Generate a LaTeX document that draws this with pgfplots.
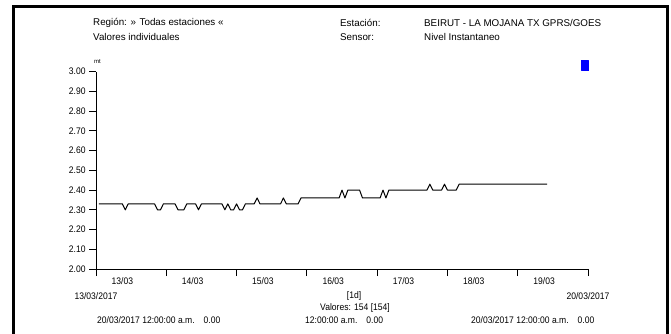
\documentclass[border=0pt]{standalone}
\usepackage{pgfplots}
\pgfplotsset{compat=1.18}
\usepackage{fontspec}
\setmainfont{Liberation Sans}
\newfontfamily\narrow{Liberation Sans}[FakeStretch=0.9]
\begin{document}
\fontsize{9.8}{11}\selectfont
\begin{tikzpicture}[x=1pt,y=1pt]
\path[use as bounding box] (0,0) rectangle (671,-333);
\begin{scope}
\clip (0,0) rectangle (671,-333);
\draw[line width=2.4pt] (13.5,-345) -- (13.5,-6.5) -- (667.5,-6.5) -- (667.5,-345);
\end{scope}
% header
\node[anchor=west,inner sep=0] at (93,-22.5) {Región: » Todas estaciones «};
\node[anchor=west,inner sep=0] at (93,-37) {Valores individuales};
\node[anchor=west,inner sep=0] at (340,-22.5) {Estación:};
\node[anchor=west,inner sep=0] at (340,-37) {Sensor:};
\node[anchor=west,inner sep=0] at (424,-22.5) {BEIRUT - LA MOJANA TX GPRS/GOES};
\node[anchor=west,inner sep=0] at (424,-37) {Nivel Instantaneo};
\node[inner sep=0,font=\fontsize{6}{7}\selectfont] at (97.5,-61.5) {mt};
% footer
\begin{scope}[font=\narrow\fontsize{9.5}{11}\selectfont]
\node[inner sep=0] at (96,-296) {13/03/2017};
\node[inner sep=0] at (588,-296) {20/03/2017};
\node[inner sep=0] at (354,-296) {[1d]};
\node[inner sep=0] at (355,-308) {Valores: 154 [154]};
\node[anchor=west,inner sep=0] at (97,-320) {20/03/2017 12:00:00 a.m.\hspace{9pt}0.00};
\node[anchor=west,inner sep=0] at (305,-320) {12:00:00 a.m.\hspace{9pt}0.00};
\node[anchor=west,inner sep=0] at (471,-320) {20/03/2017 12:00:00 a.m.\hspace{9pt}0.00};
\end{scope}
\begin{axis}[
  at={(96pt,-269pt)}, anchor=south west,
  scale only axis, width=492pt, height=197.3pt,
  xmin=0, xmax=168, ymin=2, ymax=3,
  axis lines=left, axis line style={-, line width=0.9pt},
  tick align=outside, major tick length=7pt,
  tick style={line width=0.9pt, black},
  xtick={0,24,48,72,96,120,144,168}, xticklabels={},
  extra x ticks={9,33,57,81,105,129,153},
  extra x tick labels={13/03,14/03,15/03,16/03,17/03,18/03,19/03},
  extra x tick style={major tick length=0pt, xticklabel style={yshift=-5pt}},
  ytick={2,2.1,2.2,2.3,2.4,2.5,2.6,2.7,2.8,2.9,3},
  /pgf/number format/assume math mode=true,
  yticklabel style={/pgf/number format/.cd, fixed, fixed zerofill, precision=2},
  ticklabel style={font=\narrow\fontsize{9.5}{11}\selectfont},
  clip=false,
  legend style={at={(0.995,1.029)}, anchor=center, draw=none, fill=none, inner sep=0pt,
    legend cell align=left, nodes={inner sep=0pt}},
  legend image code/.code={\fill[blue] (-3.5pt,-5pt) rectangle (3.5pt,5pt);},
]
\addplot[black, line width=1pt, line join=round] coordinates {
(1,2.33) (9,2.33) (10,2.30) (11,2.33) (20,2.33) (21,2.30) (22,2.30) (23,2.33)
(27,2.33) (28,2.30) (30,2.30) (31,2.33) (34,2.33) (35,2.30) (36,2.33)
(43,2.33) (44,2.30) (45,2.33) (46,2.30) (47,2.30) (48,2.33) (49,2.30) (50,2.30) (51,2.33)
(54,2.33) (55,2.36) (56,2.33) (63,2.33) (64,2.36) (65,2.33) (69,2.33) (70,2.36)
(83,2.36) (84,2.40) (85,2.36) (86,2.40) (90,2.40) (91,2.36) (97,2.36) (98,2.40) (99,2.36) (100,2.40)
(113,2.40) (114,2.43) (115,2.40) (118,2.40) (119,2.43) (120,2.40) (123,2.40) (124,2.43) (154,2.43)
};
\addlegendentry{}
\end{axis}
\end{tikzpicture}
\end{document}
